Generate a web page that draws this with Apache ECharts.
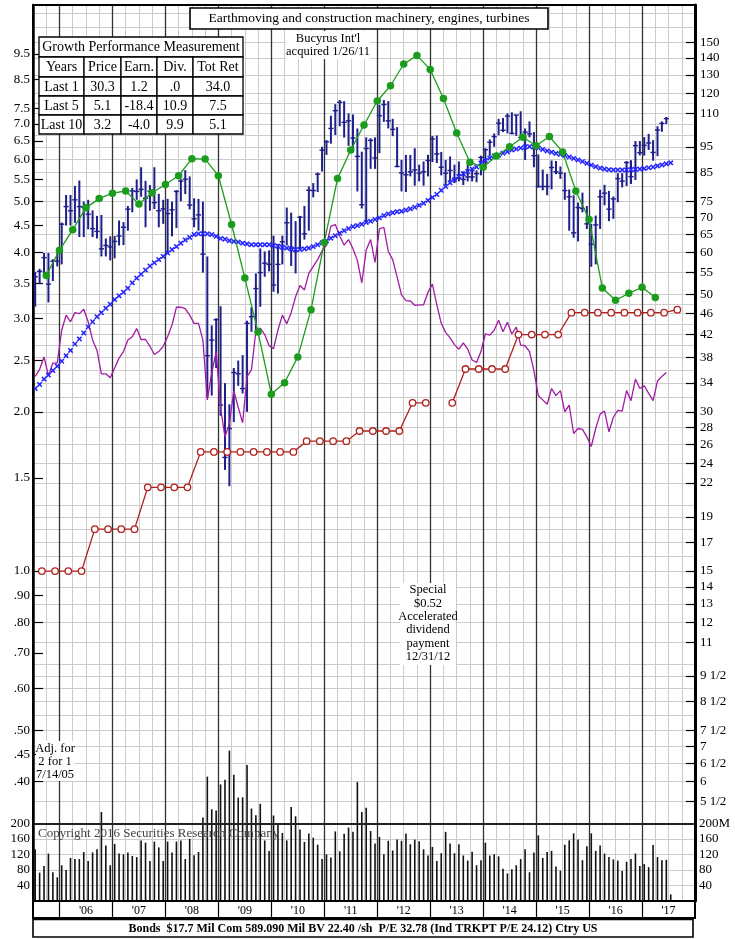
<!DOCTYPE html>
<html><head><meta charset="utf-8">
<script src="https://cdn.jsdelivr.net/npm/echarts@6/dist/echarts.min.js"></script>
<style>html,body{margin:0;padding:0;background:#fff}#c{width:735px;height:939px}</style>
</head><body><div id="c"></div>
<script>
// ---------------- DATA ----------------
// month index counted from Jan 2005 (0); monthly series start Jul 2005
const START_MONTH = 6;
const EARN_START = 9;     // quarterly earnings points
const DIV_START = 8;      // quarterly dividend points
const QUARTER = 3;

const priceHigh = [
 55.2,55.9,59.9,59.9,58.3,59.9,
 68.4,77.1,77.1,80.2,82.1,74.9,75.5,72.1,70.4,70.7,63.8,64.4,
 64.5,69.0,68.5,73.5,79.5,82.5,87.0,82.0,80.5,87.0,77.5,75.5,
 75.8,74.9,78.8,82.6,85.9,83.6,76.0,75.8,74.9,59.0,43.7,45.1,
 47.5,34.0,31.0,36.3,37.5,38.4,44.6,47.3,54.8,61.1,60.3,60.6,
 64.6,62.3,64.6,73.0,71.4,68.8,70.4,73.5,80.0,81.2,85.0,95.1,
 97.9,108.9,114.5,116.6,116.0,110.0,109.5,103.0,93.1,99.1,98.7,99.1,
 114.2,116.6,116.0,107.4,103.6,89.8,91.8,91.8,94.5,88.0,89.2,91.8,
 99.7,99.9,93.0,89.8,91.2,88.0,89.2,85.5,88.0,86.1,85.8,91.5,
 94.5,98.2,100.8,107.4,107.8,110.0,110.5,109.3,111.0,103.0,106.2,101.4,
 92.0,86.1,84.5,89.6,89.4,87.3,85.0,79.0,77.0,74.6,77.9,73.5,
 68.0,70.5,78.9,80.6,78.5,76.6,84.8,84.8,89.4,89.7,97.5,97.5,
 99.2,100.6,97.9,104.0,106.2,108.3
];
const priceLow = [
 47.4,52.3,54.8,48.3,53.0,56.5,
 57.0,67.5,67.5,68.3,64.2,64.2,66.4,64.2,63.8,59.0,59.0,58.0,
 58.5,61.9,62.0,66.0,71.5,75.5,76.5,67.0,72.0,72.5,67.0,68.0,
 59.6,64.4,66.8,75.0,77.4,72.4,67.0,66.0,55.0,31.9,32.2,36.3,
 29.5,23.3,21.7,28.7,33.6,32.5,30.0,42.5,42.3,47.4,54.0,55.3,
 50.6,50.2,57.0,61.9,56.6,54.8,60.7,63.5,66.0,76.3,78.1,85.4,
 91.8,96.4,100.1,104.0,99.0,95.5,93.9,78.3,72.7,68.3,86.4,86.4,
 92.5,106.0,103.0,99.6,87.0,78.3,78.1,83.6,80.3,81.8,80.3,83.6,
 89.0,88.6,84.0,80.5,81.8,81.2,81.8,80.5,81.8,81.8,81.5,84.0,
 87.0,91.2,95.1,100.0,101.4,100.8,100.4,99.7,98.6,89.8,99.1,87.0,
 79.6,78.7,77.0,79.0,84.4,82.7,75.5,66.0,64.0,63.0,71.5,66.5,
 56.4,57.0,66.5,73.7,68.8,69.5,74.7,79.7,80.2,80.9,82.3,91.6,
 91.5,93.8,89.5,91.3,101.5,105.0
];
const priceClose = [
 54.0,55.3,58.7,52.3,57.8,57.8,
 67.9,73.3,72.0,75.5,73.3,73.1,70.9,66.6,65.8,61.0,61.9,61.5,
 63.0,64.5,67.0,72.5,78.5,78.3,79.0,76.0,78.4,74.6,72.0,72.6,
 71.1,72.3,78.3,81.9,82.6,73.8,69.5,70.7,59.6,38.3,41.0,44.8,
 30.9,24.6,27.9,35.6,35.4,33.2,44.1,45.4,51.3,55.0,57.3,57.0,
 52.1,57.0,62.9,68.3,61.1,60.3,70.0,65.1,78.7,78.6,84.4,93.7,
 97.2,103.0,111.3,115.4,105.8,106.5,98.8,91.2,73.9,94.4,97.8,90.6,
 108.9,114.3,106.5,102.6,87.3,84.9,84.2,85.3,86.0,84.8,85.3,89.6,
 98.4,92.2,87.0,84.8,85.8,82.5,82.9,82.5,83.4,83.4,84.6,90.8,
 93.9,97.0,99.4,105.4,102.2,108.7,100.8,109.2,99.0,101.4,100.6,91.5,
 80.0,80.0,80.0,86.9,85.3,84.8,78.6,76.5,65.4,73.0,72.7,68.0,
 62.2,67.7,76.5,77.7,72.5,75.8,82.8,81.9,88.8,83.5,95.6,92.7,
 95.7,96.7,92.8,102.3,105.3,107.5
];
const movingAvg = [
 33.2,33.8,34.6,35.2,35.9,36.6,
 37.4,38.3,39.2,40.3,41.2,42.3,43.4,44.4,45.4,46.2,47.1,47.9,
 48.9,49.7,50.5,51.4,52.6,53.7,54.6,55.6,56.6,57.4,58.2,59.0,
 59.9,60.8,61.6,62.5,63.4,64.1,64.9,65.1,65.1,65.1,64.9,64.4,
 63.8,63.6,63.2,63.0,62.8,62.5,62.3,62.1,62.1,62.1,62.1,62.1,
 61.9,61.7,61.4,61.2,61.0,60.8,60.8,61.0,61.2,61.6,62.1,62.6,
 63.2,63.9,64.6,65.3,66.0,66.6,67.2,67.5,67.9,68.4,68.8,69.3,
 69.8,70.5,71.0,71.4,71.7,71.8,72.2,72.6,73.1,73.7,74.4,75.3,
 76.3,77.3,78.7,80.0,81.3,82.4,83.6,84.6,85.4,86.3,87.1,88.6,
 89.6,90.5,91.4,91.8,92.5,93.1,93.8,94.2,94.6,95.0,95.2,95.0,
 94.6,94.0,93.4,92.9,92.4,92.0,91.6,91.0,90.4,89.8,89.2,88.5,
 87.8,87.2,86.7,86.3,86.1,86.0,86.0,86.0,86.0,86.1,86.2,86.3,
 86.5,86.8,87.1,87.5,87.9,88.3,88.7
];
const relStrength = [
 35.0,36.1,38.1,35.1,37.1,37.1,
 42.8,45.7,44.4,46.2,46.0,46.9,44.4,41.0,39.2,35.4,35.4,34.8,
 36.3,37.9,39.0,41.0,41.6,43.1,41.1,41.1,39.9,38.5,39.0,39.9,
 41.6,43.8,47.3,47.3,47.0,45.7,44.1,44.1,41.0,31.6,35.5,39.0,
 30.5,26.9,28.5,32.9,30.6,28.6,35.0,36.0,42.6,43.2,42.0,40.0,
 39.5,42.8,45.7,44.0,46.2,49.5,52.0,51.0,54.8,56.5,58.2,60.5,
 61.9,67.3,67.8,64.5,62.0,63.5,61.0,58.0,52.6,60.7,63.5,57.5,
 66.5,67.0,60.3,58.2,54.0,49.9,48.7,48.6,47.7,47.8,47.8,50.5,
 52.3,47.8,44.1,42.4,41.4,40.2,39.4,40.5,39.4,37.6,37.2,39.0,
 42.1,41.9,42.8,44.7,42.5,44.3,42.1,43.4,40.1,40.0,39.0,35.9,
 32.2,31.6,31.0,33.2,32.2,32.9,30.0,30.9,27.3,27.9,27.8,26.9,
 25.8,27.9,29.7,30.1,27.5,29.3,30.2,30.1,32.9,31.5,34.6,33.2,
 33.6,32.5,31.5,34.3,35.0,35.6
];
const volume = [
 133,73,90,122,74,61,
 92,80,111,108,108,126,103,125,133,229,143,92,
 147,122,120,125,116,113,156,150,103,153,138,103,
 153,125,153,156,108,160,118,126,215,320,236,233,
 300,312,387,325,266,267,350,238,221,250,156,129,
 220,200,175,156,242,218,184,152,174,163,145,108,
 120,112,179,128,173,189,178,306,229,240,180,148,
 165,120,155,130,158,155,174,146,158,154,133,117,
 139,103,123,178,148,123,146,117,104,127,92,105,
 150,117,120,115,83,71,82,92,108,133,74,125,
 169,111,126,129,89,78,145,156,174,158,105,141,
 174,129,143,122,113,107,104,77,101,108,122,90,
 95,87,144,113,105,106,17
];
const earnings = [
 3.62,4.04,4.42,4.86,5.06,5.18,5.23,4.94,5.19,5.38,5.59,6.02,6.01,5.59,4.52,3.58,
 2.83,2.16,2.27,2.54,3.12,4.18,5.52,6.25,6.97,7.74,8.27,9.09,9.43,8.88,7.82,6.73,
 5.93,5.80,6.09,6.34,6.61,6.37,6.63,6.20,5.23,4.62,3.43,3.25,3.35,3.44,3.29
];
const dividends = [
 1.00,1.00,1.00,1.00, 1.20,1.20,1.20,1.20, 1.44,1.44,1.44,1.44,
 1.68,1.68,1.68,1.68,1.68,1.68,1.68,1.68, 1.76,1.76,1.76,1.76,
 1.84,1.84,1.84,1.84, 2.08,2.08,null,2.08, 2.41,2.41,2.41,2.41,
 2.80,2.80,2.80,2.80, 3.08,3.08,3.08,3.08,3.08,3.08,3.08,3.08, 3.12
];
const yearLabels = ["'06","'07","'08","'09","'10","'11","'12","'13","'14","'15","'16","'17"];
const yearStarts = [12,24,36,48,60,72,84,96,108,120,132,144];
const quarterLines = [9,15,18,21,27,30,33,39,42,45,51,54,57,63,66,69,75,78,81,87,90,93,99,102,105,111,114,117,123,126,129,135,138,141,147,150,153];
const leftTickVals = [9.5,8.5,7.5,7.0,6.5,6.0,5.5,5.0,4.5,4.0,3.5,3.0,2.5,2.0,1.5,1.0,0.9,0.8,0.7,0.6,0.5,0.45,0.4];
const leftTickText = ["9.5","8.5","7.5","7.0","6.5","6.0","5.5","5.0","4.5","4.0","3.5","3.0","2.5","2.0","1.5","1.0",".90",".80",".70",".60",".50",".45",".40"];
const rightTickVals = [150,140,130,120,110,95,85,75,70,65,60,55,50,46,42,38,34,30,28,26,24,22,19,17,15,14,13,12,11,9.5,8.5,7.5,7,6.5,6,5.5];
const rightTickText = ["150","140","130","120","110","95","85","75","70","65","60","55","50","46","42","38","34","30","28","26","24","22","19","17","15","14","13","12","11","9 1/2","8 1/2","7 1/2","7","6 1/2","6","5 1/2"];
const priceGridVals = [170,160,150,140,130,120,115,110,105,100,95,90,85,80,75,70,65,60,55,50,48,46,44,42,40,38,36,34,32,30,28,26,24,22,20,19,18,17,16,15,14,13,12,11,10,9.5,9,8.5,8,7.5,7,6.5,6,5.5];
const volumeTicks = [40,80,120,160,200];
const volumeTickText = ["40","80","120","160","200"];
const volumeTickTextRight = ["40","80","120","160","200M"];
const tableHeader = "Growth Performance Measurement";
const tableRows = [
 ["Years","Price","Earn.","Div.","Tot Ret"],
 ["Last 1","30.3","1.2",".0","34.0"],
 ["Last 5","5.1","-18.4","10.9","7.5"],
 ["Last 10","3.2","-4.0","9.9","5.1"]
];
const titleText = "Earthmoving and construction machinery, engines, turbines";
const footerText = "Bonds  $17.7 Mil Com 589.090 Mil BV 22.40 /sh  P/E 32.78 (Ind TRKPT P/E 24.12) Ctry US";

// ---------------- AXIS RANGES ----------------
const X_MIN = 6, X_MAX = 156;
const PRICE_MIN = 3.567, PRICE_MAX = 176.3;   // right axis ($)
const LEFT_RATIO = 15;                          // left axis = right / 15
const VOL_MAX = 2306;

const L = Math.log;
const FONT = '"Liberation Serif", "Times New Roman", serif';
const HIDDEN_TICK = {show:true, length:0, lineStyle:{color:'rgba(0,0,0,0)', width:0}};

function lab(vals, texts) {
  return function (v) {
    for (let i = 0; i < vals.length; i++) if (Math.abs(L(vals[i]) - v) < 1e-6) return texts[i];
    return '';
  };
}

const priceData = priceHigh.map((h, i) => [START_MONTH + i + 0.5, L(h), L(priceLow[i]), L(priceClose[i])]);
const maData = movingAvg.map((v, i) => [START_MONTH + i + 0.5, L(v)]);
const rsData = relStrength.map((v, i) => [START_MONTH + i + 0.5, L(v)]);
const volData = volume.map((v, i) => [START_MONTH + i + 0.5, v]);
const earnData = earnings.map((v, i) => [EARN_START + QUARTER * i, L(v)]);
const divData = dividends.map((v, i) => [DIV_START + QUARTER * i, v == null ? '-' : L(v)]);

const xSym = 'path://M0,2L2,0L5,3L8,0L10,2L7,5L10,8L8,10L5,7L2,10L0,8L3,5Z';

// ---------------- GRAPHICS ----------------
const graphics = [];
graphics.push({type:'rect', shape:{x:190, y:8, width:358, height:21}, style:{fill:'#fff', stroke:'#000', lineWidth:1.6}, z:100});
graphics.push({type:'text', x:369, y:18.5, style:{text:titleText, font:'13.5px ' + FONT, fill:'#000', textAlign:'center', textVerticalAlign:'middle', align:'center', verticalAlign:'middle'}, z:101});
const tCols = [39, 84, 121, 157, 193, 243];
const tRows = [57, 77, 96, 115, 134];
graphics.push({type:'rect', shape:{x:39, y:37, width:204, height:20}, style:{fill:'#fff', stroke:'#000', lineWidth:1.3}, z:100});
graphics.push({type:'text', x:141, y:47, style:{text:tableHeader, font:'14px ' + FONT, fill:'#000', textAlign:'center', textVerticalAlign:'middle', align:'center', verticalAlign:'middle'}, z:101});
for (let r = 0; r < tableRows.length; r++) {
  for (let c = 0; c < 5; c++) {
    graphics.push({type:'rect', shape:{x:tCols[c], y:tRows[r], width:tCols[c+1]-tCols[c], height:tRows[r+1]-tRows[r]}, style:{fill:'#fff', stroke:'#000', lineWidth:1.3}, z:100});
    graphics.push({type:'text', x:(tCols[c]+tCols[c+1])/2, y:(tRows[r]+tRows[r+1])/2 + 0.5, style:{text:tableRows[r][c], font:'14px ' + FONT, fill:'#000', textAlign:'center', textVerticalAlign:'middle', align:'center', verticalAlign:'middle'}, z:101});
  }
}
function note(lines, cx, y0, lh, box) {
  graphics.push({type:'rect', shape:box, style:{fill:'#fff', stroke:null}, z:90});
  lines.forEach((t, i) => graphics.push({type:'text', x:cx, y:y0 + i*lh, style:{text:t, font:'12.5px ' + FONT, fill:'#000', textAlign:'center', textVerticalAlign:'middle', align:'center', verticalAlign:'middle'}, z:91}));
}
note(["Bucyrus Int'l", "acquired 1/26/11"], 328, 38.5, 13.5, {x:286, y:31, width:84, height:28});
note(["Special", "$0.52", "Accelerated", "dividend", "payment", "12/31/12"], 428, 590, 13.4, {x:400, y:583, width:56, height:82});
note(["Adj. for", "2 for 1", "7/14/05"], 55, 748.5, 13, {x:36, y:741, width:38, height:40});
graphics.push({type:'text', x:38, y:833.5, style:{text:'Copyright 2016 Securities Research Company', font:'13px ' + FONT, fill:'#444', textAlign:'left', textVerticalAlign:'middle', align:'left', verticalAlign:'middle'}, z:60});
graphics.push({type:'rect', shape:{x:33, y:5, width:662, height:913}, style:{fill:'none', stroke:'#000', lineWidth:2}, z:120, silent:true});
graphics.push({type:'rect', shape:{x:33, y:919.5, width:660, height:17.5}, style:{fill:'#fff', stroke:'#000', lineWidth:1.6}, z:120});
graphics.push({type:'text', x:363, y:928.5, style:{text:footerText, font:'bold 12px ' + FONT, fill:'#000', textAlign:'center', textVerticalAlign:'middle', align:'center', verticalAlign:'middle'}, z:121});

// ---------------- OPTION ----------------
const option = {
  animation: false,
  textStyle: {fontFamily: FONT},
  grid: {left:33, right:40, top:5, bottom:38, containLabel:false},
  xAxis: [
    { type:'value', min:X_MIN, max:X_MAX, position:'bottom',
      axisLine:{show:true, onZero:false, lineStyle:{color:'#000', width:2}},
      axisTick:{show:true, customValues:yearStarts, length:17, inside:false, lineStyle:{color:'#000', width:1.2}},
      axisLabel:{show:true, customValues:yearStarts.map(v => v + 6), margin:4, fontSize:12, fontFamily:FONT, color:'#000',
                 formatter:(v) => yearLabels[Math.round((v - 18) / 12)] || ''},
      splitLine:{show:true, lineStyle:{color:'#333', width:1.3}}, z:3 },
    { type:'value', min:X_MIN, max:X_MAX, position:'top',
      axisLine:{show:false, onZero:false}, axisTick:Object.assign({customValues:quarterLines}, HIDDEN_TICK), axisLabel:{show:false},
      splitLine:{show:true, lineStyle:{color:'#cccccc', width:1}} }
  ],
  yAxis: [
    { type:'value', position:'left', min:L(PRICE_MIN/LEFT_RATIO), max:L(PRICE_MAX/LEFT_RATIO),
      axisLine:{show:true, onZero:false, lineStyle:{color:'#000', width:2.5}},
      axisTick:{show:true, inside:true, length:10, customValues:leftTickVals.map(L), lineStyle:{color:'#000', width:1.2}},
      axisLabel:{show:true, customValues:leftTickVals.map(L), formatter:lab(leftTickVals, leftTickText), margin:3, fontSize:13, fontFamily:FONT, color:'#000'},
      splitLine:{show:false} },
    { type:'value', position:'right', min:L(PRICE_MIN), max:L(PRICE_MAX),
      axisLine:{show:true, onZero:false, lineStyle:{color:'#000', width:3}},
      axisTick:{show:true, inside:true, length:9, customValues:rightTickVals.map(L), lineStyle:{color:'#000', width:1.2}},
      axisLabel:{show:true, customValues:rightTickVals.map(L), formatter:lab(rightTickVals, rightTickText), margin:5, fontSize:13, fontFamily:FONT, color:'#000'},
      splitLine:{show:false} },
    { type:'value', position:'right', min:L(PRICE_MIN), max:L(PRICE_MAX),
      axisLine:{show:false, onZero:false}, axisTick:Object.assign({customValues:priceGridVals.map(L)}, HIDDEN_TICK), axisLabel:{show:false},
      splitLine:{show:true, lineStyle:{color:'#cccccc', width:1}} },
    { type:'value', position:'left', min:0, max:VOL_MAX,
      axisLine:{show:false, onZero:false}, axisTick:Object.assign({customValues:volumeTicks}, HIDDEN_TICK),
      axisLabel:{show:true, customValues:volumeTicks, formatter:(v) => volumeTickText[volumeTicks.indexOf(v)] || '', margin:3, fontSize:13, fontFamily:FONT, color:'#000'},
      splitLine:{show:true, lineStyle:{color:'#cccccc', width:1}} },
    { type:'value', position:'right', min:0, max:VOL_MAX,
      axisLine:{show:false, onZero:false}, axisTick:Object.assign({customValues:volumeTicks}, HIDDEN_TICK),
      axisLabel:{show:true, customValues:volumeTicks, formatter:(v) => volumeTickTextRight[volumeTicks.indexOf(v)] || '', margin:4, fontSize:13, fontFamily:FONT, color:'#000'},
      splitLine:{show:false} }
  ],
  series: [
    { name:'Volume', type:'bar', xAxisIndex:0, yAxisIndex:3, data:volData, barWidth:1.6, z:1,
      itemStyle:{color:'#111'}, silent:true,
      markLine:{silent:true, symbol:'none', label:{show:false}, lineStyle:{color:'#222', width:2.2, type:'solid'}, data:[{yAxis:200}]} },
    { name:'Price', type:'custom', xAxisIndex:0, yAxisIndex:1, data:priceData, z:3, encode:{x:0, y:[1,2,3]},
      renderItem: function (params, api) {
        const x = api.value(0);
        const hi = api.coord([x, api.value(1)]);
        const lo = api.coord([x, api.value(2)]);
        const cl = api.coord([x, api.value(3)]);
        return {type:'group', children:[
          {type:'line', shape:{x1:hi[0], y1:hi[1], x2:lo[0], y2:lo[1]}, style:{stroke:'#1f1f8c', lineWidth:2}},
          {type:'line', shape:{x1:cl[0]-2.6, y1:cl[1], x2:cl[0]+2.6, y2:cl[1]}, style:{stroke:'#1f1f8c', lineWidth:1.4}}
        ]};
      } },
    { name:'Rel', type:'line', xAxisIndex:0, yAxisIndex:1, data:rsData, showSymbol:false, z:4,
      lineStyle:{color:'#a21ba2', width:1.3}, itemStyle:{color:'#a21ba2'} },
    { name:'MA', type:'line', xAxisIndex:0, yAxisIndex:1, data:maData, symbol:xSym, symbolSize:5.5, showSymbol:true, z:5,
      lineStyle:{opacity:0, width:0}, itemStyle:{color:'#2626ff'} },
    { name:'Earnings', type:'line', xAxisIndex:0, yAxisIndex:0, data:earnData, symbol:'circle', symbolSize:7.5, showSymbol:true, z:6,
      lineStyle:{color:'#1c9c1c', width:1.3}, itemStyle:{color:'#1c9c1c'} },
    { name:'Dividends', type:'line', xAxisIndex:0, yAxisIndex:0, data:divData, symbol:'circle', symbolSize:6.5, showSymbol:true, connectNulls:false, z:6,
      lineStyle:{color:'#b0201c', width:1.3}, itemStyle:{color:'#fff', borderColor:'#b0201c', borderWidth:1.3} }
  ],
  graphic: graphics
};

const chart = echarts.init(document.getElementById('c'), null, {renderer:'canvas', width:735, height:939});
chart.setOption(option);
</script>
</body></html>
